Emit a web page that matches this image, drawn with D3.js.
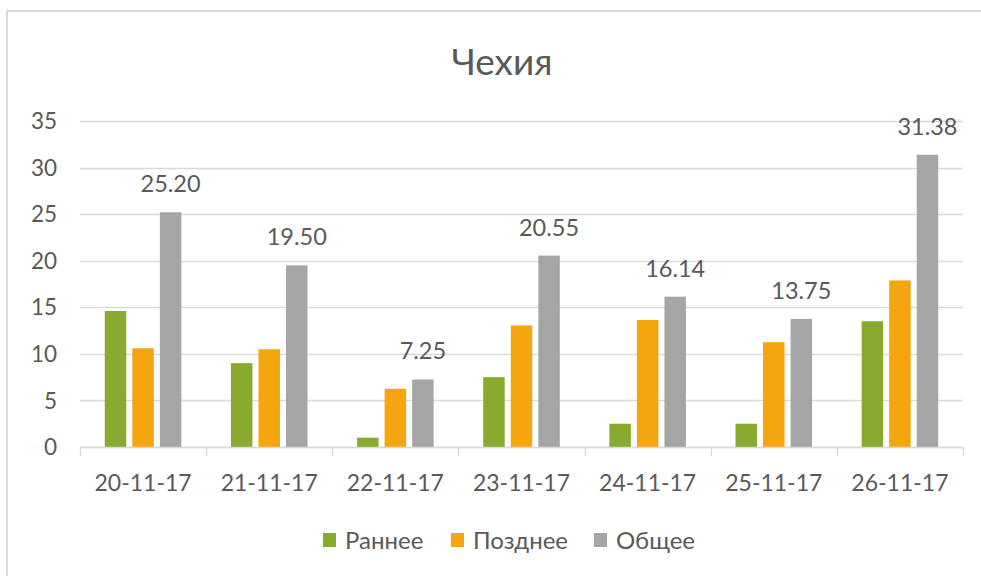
<!DOCTYPE html>
<html>
<head>
<meta charset="utf-8">
<style>
  body { margin: 0; background: #fff; }
  text { font-family: Lato, "Open Sans", sans-serif; fill: #595959; }
  .grid line { stroke: #d9d9d9; stroke-width: 1.3; }
</style>
</head>
<body>
<svg width="981" height="576"></svg>
<script src="https://cdnjs.cloudflare.com/ajax/libs/d3/7.8.5/d3.min.js"></script>
<script>
// chart data
var dates = ["20-11-17", "21-11-17", "22-11-17", "23-11-17", "24-11-17", "25-11-17", "26-11-17"];
var seriesNames = ["Раннее", "Позднее", "Общее"];
var early = [14.6, 9.0, 1.0, 7.5, 2.5, 2.5, 13.5];
var late = [10.6, 10.5, 6.25, 13.05, 13.64, 11.25, 17.88];
var total = [25.20, 19.50, 7.25, 20.55, 16.14, 13.75, 31.38];
var yTicks = [0, 5, 10, 15, 20, 25, 30, 35];
var colors = ["#88aa2e", "#f5a50d", "#a5a5a5"];

var svg = d3.select("svg");

var plotLeft = 80, plotRight = 963, plotTop = 121, plotBottom = 447;

// frame
svg.append("rect")
    .attr("x", 7).attr("y", 11)
    .attr("width", 990).attr("height", 590)
    .attr("fill", "none")
    .attr("stroke", "#d9d9d9")
    .attr("stroke-width", 2);

var x = d3.scaleBand()
    .domain(dates)
    .range([plotLeft, plotRight]);

var xs = d3.scaleBand()
    .domain(seriesNames)
    .range([0, x.bandwidth()])
    .paddingInner(0.22)
    .paddingOuter(0.9);

var y = d3.scaleLinear()
    .domain([0, 35])
    .range([plotBottom, plotTop]);

// gridlines
svg.append("g")
    .attr("class", "grid")
    .selectAll("line")
    .data(yTicks)
    .enter().append("line")
    .attr("x1", plotLeft).attr("x2", plotRight)
    .attr("y1", function(d) { return Math.round(y(d)) + 0.5; })
    .attr("y2", function(d) { return Math.round(y(d)) + 0.5; });

// y labels
svg.append("g")
    .selectAll("text")
    .data(yTicks)
    .enter().append("text")
    .attr("x", 57)
    .attr("y", function(d) { return y(d); })
    .attr("dy", "0.36em")
    .attr("text-anchor", "end")
    .style("font-size", "22.5px")
    .text(function(d) { return d; });

// bars
var table = dates.map(function(d, i) {
  return { date: d, values: [early[i], late[i], total[i]] };
});

var groups = svg.selectAll(".group")
    .data(table)
    .enter().append("g")
    .attr("class", "group")
    .attr("transform", function(d) { return "translate(" + x(d.date) + ",0)"; });

groups.selectAll("rect")
    .data(function(d) { return d.values.map(function(v, j) { return { name: seriesNames[j], value: v, j: j }; }); })
    .enter().append("rect")
    .attr("x", function(d) { return xs(d.name); })
    .attr("width", xs.bandwidth())
    .attr("y", function(d) { return y(d.value); })
    .attr("height", function(d) { return plotBottom - y(d.value); })
    .attr("fill", function(d) { return colors[d.j]; });

// data labels on total
groups.append("text")
    .attr("x", function() { return xs("Общее") + xs.bandwidth() / 2; })
    .attr("y", function(d) { return y(d.values[2]) - 20; })
    .attr("text-anchor", "middle")
    .style("font-size", "23.5px")
    .text(function(d) { return d.values[2].toFixed(2); });

// x axis
var ax = svg.append("g")
    .attr("transform", "translate(0," + plotBottom + ")");
ax.append("line")
    .attr("x1", plotLeft).attr("x2", plotRight)
    .attr("y1", 0.5).attr("y2", 0.5)
    .attr("stroke", "#d9d9d9").attr("stroke-width", 1.3);
ax.selectAll(".tk")
    .data(dates.concat(["end"]))
    .enter().append("line")
    .attr("x1", function(d, i) { return Math.round(plotLeft + i * x.step()) + 0.5; })
    .attr("x2", function(d, i) { return Math.round(plotLeft + i * x.step()) + 0.5; })
    .attr("y1", 0).attr("y2", 9)
    .attr("stroke", "#d9d9d9").attr("stroke-width", 1.3);
ax.selectAll(".lbl")
    .data(dates)
    .enter().append("text")
    .attr("x", function(d) { return x(d) + x.bandwidth() / 2; })
    .attr("y", 44)
    .attr("text-anchor", "middle")
    .style("font-size", "23px")
    .text(function(d) { return d; });

// title
svg.append("text")
    .attr("x", 502)
    .attr("y", 75)
    .attr("text-anchor", "middle")
    .style("font-size", "37px")
    .text("Чехия");

// legend
var legendX = [323, 451, 594];
var legend = svg.selectAll(".legend")
    .data(seriesNames)
    .enter().append("g")
    .attr("transform", function(d, i) { return "translate(" + legendX[i] + ",533)"; });
legend.append("rect")
    .attr("width", 13).attr("height", 14)
    .attr("fill", function(d, i) { return colors[i]; });
legend.append("text")
    .attr("x", 22)
    .attr("y", 7)
    .attr("dy", "0.36em")
    .style("font-size", "24px")
    .text(function(d) { return d; });
</script>
</body>
</html>
